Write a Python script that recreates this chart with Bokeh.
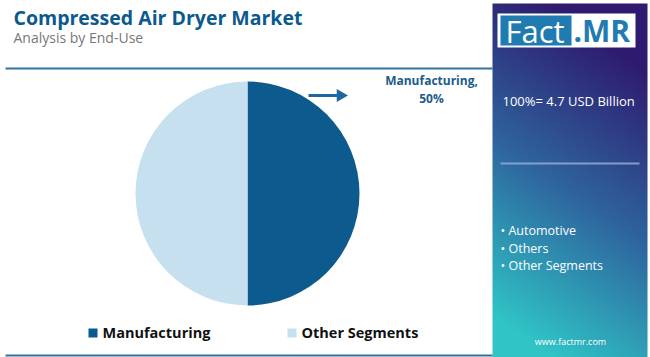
import numpy as np
from bokeh.plotting import figure
from bokeh.models import Range1d
from bokeh.embed import file_html
from bokeh.resources import INLINE
from bokeh.core.properties import value

# ---- data ----
categories = ["Manufacturing", "Other Segments"]
shares = [50, 50]
colors = ["#0d5a8f", "#c6e0f0"]
title = "Compressed Air Dryer Market"
subtitle = "Analysis by End-Use"
total_label = "100%= 4.7 USD Billion"
other_items = ["Automotive", "Others", "Other Segments"]

H = 357
def Y(y):
    return H - y

p = figure(width=650, height=357, output_backend="svg", toolbar_location=None,
           x_range=Range1d(0, 650), y_range=Range1d(0, H),
           min_border=0, outline_line_color=None)
p.axis.visible = False
p.grid.visible = False
p.background_fill_color = "white"

# ---- right panel gradient ----
px0, px1, py0, py1 = 492, 647, 3, 357
w, h = int(px1 - px0), int(py1 - py0)
u = np.linspace(0, 1, w)[None, :]
v = np.linspace(1, 0, h)[:, None]  # row 0 = bottom
t = np.clip(v - 0.3 * u + 0.12, 0, 1)
stops = np.array([[0x2e, 0x1a, 0x6e], [0x2e, 0x64, 0x9e], [0x30, 0xc4, 0xc6]], float)
def interp(t):
    out = np.zeros(t.shape + (3,))
    m = t < 0.5
    a = t / 0.5
    b = (t - 0.5) / 0.5
    for c in range(3):
        out[..., c] = np.where(m, stops[0, c] + (stops[1, c] - stops[0, c]) * a,
                               stops[1, c] + (stops[2, c] - stops[1, c]) * b)
    return out
rgb = interp(np.broadcast_to(t, (h, w))).astype(np.uint32)
img = (255 << 24) | (rgb[..., 2] << 16) | (rgb[..., 1] << 8) | rgb[..., 0]
p.image_rgba(image=[img.astype(np.uint32)], x=px0, y=Y(py1), dw=w, dh=h)

# ---- title ----
p.text(x=[13], y=[Y(17)], text=[title], text_font=value("Open Sans"),
       text_font_style="bold", text_font_size="19.5px", text_color="#0b5a8e",
       text_baseline="middle")
p.text(x=[13], y=[Y(37)], text=[subtitle], text_font=value("Open Sans"),
       text_font_size="14px", text_color="#777777", text_baseline="middle")
p.segment(x0=[5], y0=[Y(68)], x1=[492], y1=[Y(68)], line_color="#2f74a0", line_width=2)
p.segment(x0=[5], y0=[Y(355)], x1=[492], y1=[Y(355)], line_color="#2f74a0", line_width=2)

# ---- pie ----
cx, cy, r = 247, Y(193), 112
tot = float(sum(shares))
cum = np.concatenate([[0], np.cumsum(shares)]) / tot
starts = [np.pi / 2 - cum[i] * 2 * np.pi for i in range(len(shares))]
ends = [np.pi / 2 - cum[i + 1] * 2 * np.pi for i in range(len(shares))]
p.wedge(x=cx, y=cy, radius=r, start_angle=starts, end_angle=ends, direction="clock",
        fill_color=colors, line_color=None)

# ---- annotation ----
p.segment(x0=[308], y0=[Y(95)], x1=[337], y1=[Y(95)], line_color="#1f67a0", line_width=3)
p.scatter(x=[340], y=[Y(95)], marker="triangle", size=13, angle=-np.pi / 2,
          fill_color="#1f67a0", line_color=None)
p.text(x=[431, 431], y=[Y(80), Y(98)],
       text=[f"{categories[0]},", f"{shares[0]}%"], text_font=value("Open Sans"),
       text_font_style="bold", text_font_size="12px", text_color="#1d5b8a",
       text_align="center", text_baseline="middle")

# ---- legend ----
lx = [92.5, 291.5]
p.rect(x=lx, y=[Y(332.5)] * 2, width=9, height=9, fill_color=colors, line_color=None)
p.text(x=[102, 301], y=[Y(332)] * 2, text=categories, text_font=value("Open Sans"),
       text_font_style="bold", text_font_size="14.5px", text_color="#111111",
       text_baseline="middle")

# ---- logo ----
p.quad(left=[497], right=[635], top=[Y(13)], bottom=[Y(47)], fill_color="white", line_color=None)
p.quad(left=[500], right=[571], top=[Y(15)], bottom=[Y(45)], fill_color="#1f7bb0", line_color=None)
p.text(x=[505], y=[Y(30)], text=["Fact"], text_font=value("Open Sans"),
       text_font_size="31px", text_color="white", text_baseline="middle")
p.text(x=[573], y=[Y(30)], text=[".MR"], text_font=value("Open Sans"),
       text_font_style="bold", text_font_size="30px", text_color="#1f7bb0",
       text_baseline="middle")

# ---- panel texts ----
p.text(x=[502], y=[Y(100)], text=[total_label], text_font=value("Open Sans"),
       text_font_size="13px", text_color="white", text_baseline="middle")
p.segment(x0=[500], y0=[Y(163)], x1=[639], y1=[Y(163)], line_color="#8ea6d2",
          line_width=2, line_alpha=0.9)
p.text(x=[500] * 3, y=[Y(230), Y(248), Y(265)], text=["• " + s for s in other_items],
       text_font=value("Open Sans"), text_font_size="12.5px", text_color="white",
       text_baseline="middle")
p.text(x=[570], y=[Y(341)], text=["www.factmr.com"], text_font=value("Open Sans"),
       text_font_size="9px", text_color="white", text_align="center", text_baseline="middle")

open("out.html", "w").write(file_html(p, INLINE))
